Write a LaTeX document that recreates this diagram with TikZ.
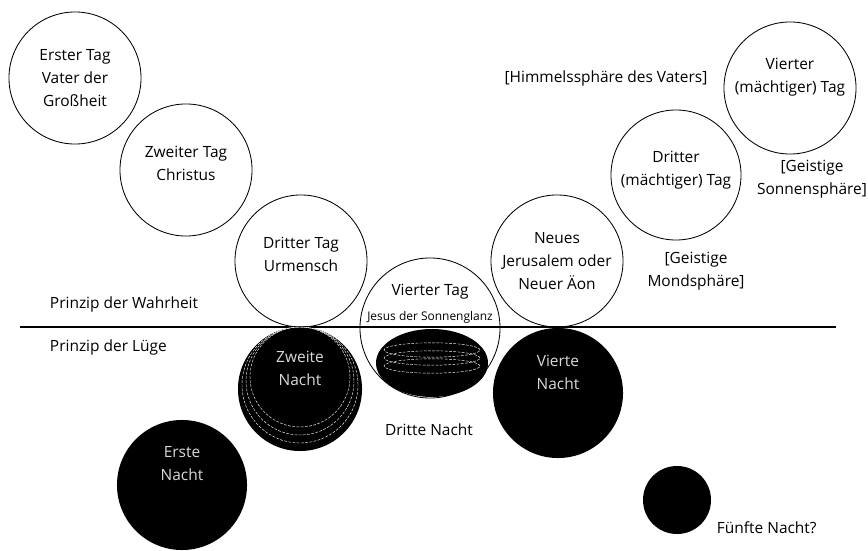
\documentclass[tikz,border=0pt]{standalone}
\usepackage{fontspec}
\setmainfont{Open Sans}

\begin{document}
\begin{tikzpicture}[%
    x=0.025cm, y=-0.025cm,
    every node/.style={font=\fontsize{11}{16.3}\selectfont},
    tag/.style={%
        draw,
        circle,
        line width=0.6pt,
        minimum size=3.3cm,
        inner sep=0pt,
        align=center,
        text depth=10pt,
    },
    nacht/.style={%
        circle,
        fill=black,
        text=white!85!black,
        minimum size=3.3cm,
        inner sep=0pt,
        align=center,
        text depth=30pt,
    },
    notiz/.style={align=center, inner sep=1pt},
    ring/.style={draw=white, dash pattern=on 2pt off 1pt, line width=0.3pt}
]
\useasboundingbox (0,0) rectangle (868,551);

% Tage
\node[tag, text depth=] (t1) at (75,78) {Erster Tag\\Vater der\\Großheit};
\node[tag] (t2) at (186,170) {Zweiter Tag\\Christus};
\node[tag] (t3) at (301,261) {Dritter Tag\\Urmensch};
\node[tag, minimum size=3.5cm] (t4) at (430,328) {};
\node[tag, text depth=] (t5) at (557,261) {Neues\\Jerusalem oder\\Neuer Äon};
\node[tag, minimum size=3.25cm] (t6) at (676,175) {Dritter\\(mächtiger) Tag};
\node[tag, text depth=18pt] (t7) at (790,88) {Vierter\\(mächtiger) Tag};

\node (t4a) at (430,292) {Vierter Tag};
\node[font=\fontsize{8.5}{10}\selectfont] (t4b) at (430,317) {Jesus der Sonnenglanz};

% Trennlinie
\coordinate (links) at (20,327);
\coordinate (rechts) at (836,327);
\draw[line width=0.8pt] (links) -- (rechts);
\node[anchor=west] (wahr) at (45,304) {Prinzip der Wahrheit};
\node[anchor=west] (luege) at (45,347) {Prinzip der Lüge};

% Naechte
\node[nacht, minimum size=3.1cm] (n2) at (300,389) {Zweite\\Nacht};
\foreach \r in {50,54,58}
    \draw[ring] (300,327+\r) circle [radius=\r*0.025cm];
\fill (432,363) ellipse [x radius=1.4cm, y radius=0.85cm];
\foreach \y in {350,358,366}
    \draw[ring] (432,\y) ellipse [x radius=1.2cm, y radius=0.18cm];
\node[nacht, minimum size=3.25cm] (n4) at (558,393) {Vierte\\Nacht};
\node[nacht, minimum size=3.25cm] (n1) at (182,485) {Erste\\Nacht};
\node[nacht, minimum size=1.7cm, text depth=] (n5) at (677,500) {};

% Beschriftungen
\node (n3) at (429,430) {Dritte Nacht};
\node[anchor=west] (n5l) at (712,528) {Fünfte Nacht?};
\node (hv) at (606,78) {[Himmelssphäre des Vaters]};
\node[notiz] (gs) at (812,179) {[Geistige\\Sonnensphäre]};
\node[notiz] (gm) at (696,271) {[Geistige\\Mondsphäre]};

\end{tikzpicture}
\end{document}
